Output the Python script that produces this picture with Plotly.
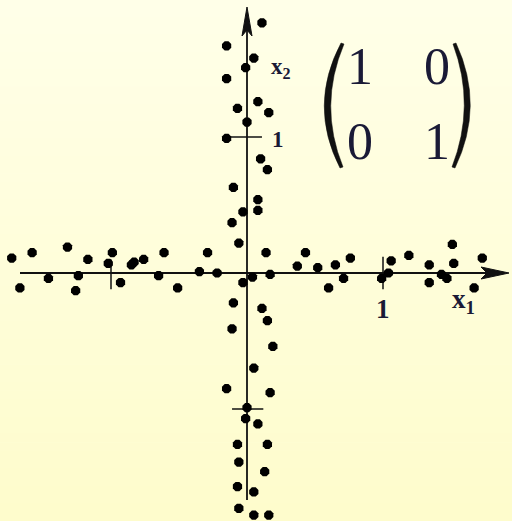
import plotly.graph_objects as go

# Sample points scattered along the two coordinate axes
x_vals = [
    -1.73, -1.58, -1.67, -1.46, -1.32, -1.17, -1.24, -1.26, -0.99, -1.02,
    -0.93, -0.85, -0.83, -0.76, -0.61, -0.65, -0.51, -0.35, -0.29, -0.22,
    -0.06, -0.03, 0.04, -0.10, 0.17, 0.14,
    0.37, 0.43, 0.52, 0.60, 0.65, 0.71, 0.76, 0.99, 1.04, 1.06,
    1.19, 1.34, 1.34, 1.43, 1.47, 1.51, 1.52, 1.67, 1.73,
    0.11, -0.15, 0.05, -0.01, -0.15, 0.08, -0.07, 0.16, 0.00, -0.15,
    0.10, 0.15, -0.10, 0.08, 0.08, -0.03, -0.11,
    0.11, 0.15, -0.11, 0.19, 0.05, -0.15, 0.17, 0.00, -0.01, 0.08,
    -0.07, 0.15, -0.06, 0.13, -0.07, 0.05, -0.06, 0.05, 0.16,
]
y_vals = [
    0.11, 0.15, -0.11, -0.04, 0.19, 0.10, -0.02, -0.13, 0.15, 0.07,
    -0.07, 0.06, 0.08, 0.10, 0.15, -0.02, -0.11, 0.01, 0.15, 0.00,
    0.22, -0.07, -0.03, -0.22, -0.01, 0.15,
    0.05, 0.15, 0.04, -0.11, 0.06, -0.04, 0.11, -0.04, 0.00, 0.09,
    0.13, 0.06, -0.07, -0.01, -0.04, 0.21, 0.07, -0.11, 0.11,
    1.84, 1.67, 1.58, 1.51, 1.43, 1.26, 1.21, 1.18, 1.11, 0.99,
    0.84, 0.76, 0.63, 0.54, 0.46, 0.45, 0.37,
    -0.26, -0.35, -0.41, -0.54, -0.70, -0.85, -0.88, -0.99, -1.07, -1.11,
    -1.26, -1.26, -1.39, -1.46, -1.57, -1.61, -1.73, -1.78, -1.78,
]

# Identity matrix shown next to the plot
matrix = [["1", "0"], ["0", "1"]]

W, H = 512, 521
X0, Y0, UNIT = 247, 273, 136  # origin pixel and pixels per unit


def dx(px):
    return (px - X0) / UNIT


def dy(py):
    return (Y0 - py) / UNIT


INK = "#111111"
LABEL = "#1a1a36"

shapes = []

# soft yellow vertical gradient background
n_bands = 60
top = (255, 255, 232)
bot = (254, 252, 204)
for i in range(n_bands):
    t = i / (n_bands - 1)
    c = tuple(round(top[k] + (bot[k] - top[k]) * t) for k in range(3))
    shapes.append(dict(
        type="rect", xref="paper", yref="paper",
        x0=0, x1=1, y0=1 - (i + 1) / n_bands, y1=1 - i / n_bands + 0.001,
        fillcolor="rgb(%d,%d,%d)" % c, line=dict(width=0), layer="below",
    ))

axis_line = dict(color=INK, width=1.8)

# x1 axis and arrowhead
shapes.append(dict(type="line", xref="x", yref="y", x0=dx(20), x1=dx(490),
                   y0=0, y1=0, line=axis_line, layer="below"))
shapes.append(dict(
    type="path", xref="x", yref="y",
    path="M %f %f L %f %f L %f %f L %f %f Z" % (
        dx(509), 0, dx(481), dy(267), dx(487), 0, dx(481), dy(279)),
    fillcolor=INK, line=dict(color=INK, width=1), layer="below"))

# x2 axis and arrowhead
shapes.append(dict(type="line", xref="x", yref="y", x0=0, x1=0,
                   y0=dy(500), y1=dy(30), line=axis_line, layer="below"))
shapes.append(dict(
    type="path", xref="x", yref="y",
    path="M %f %f L %f %f L %f %f L %f %f Z" % (
        0, dy(7), dx(242), dy(36), 0, dy(30), dx(252), dy(36)),
    fillcolor=INK, line=dict(color=INK, width=1), layer="below"))

# unit tick marks
tick_line = dict(color=INK, width=1.5)
shapes += [
    dict(type="line", xref="x", yref="y", x0=1, x1=1, y0=0.12, y1=-0.12,
         line=tick_line, layer="below"),
    dict(type="line", xref="x", yref="y", x0=-1, x1=-1, y0=0.10, y1=-0.12,
         line=tick_line, layer="below"),
    dict(type="line", xref="x", yref="y", x0=-0.18, x1=0.11, y0=1, y1=1,
         line=tick_line, layer="below"),
    dict(type="line", xref="x", yref="y", x0=-0.11, x1=0.12, y0=-1, y1=-1,
         line=tick_line, layer="below"),
]


def paren(x_end_out, x_ctrl_out, x_end_in, x_ctrl_in, ytop, ybot):
    ym = (ytop + ybot) / 2
    return ("M %f %f Q %f %f %f %f L %f %f Q %f %f %f %f Z" % (
        dx(x_end_out), dy(ytop), dx(x_ctrl_out), dy(ym), dx(x_end_out - 1), dy(ybot),
        dx(x_end_in - 1), dy(ybot - 1), dx(x_ctrl_in), dy(ym), dx(x_end_in), dy(ytop + 1)))


# matrix brackets
shapes.append(dict(type="path", xref="x", yref="y",
                   path=paren(341, 308, 344, 318, 43, 168),
                   fillcolor=INK, line=dict(color=INK, width=0.5)))
shapes.append(dict(type="path", xref="x", yref="y",
                   path=paren(456, 485, 453, 476, 43, 168),
                   fillcolor=INK, line=dict(color=INK, width=0.5)))

annotations = []
serif = "Liberation Serif"

# matrix entries
col_px = [360, 437]
row_px = [66, 141]
for r in range(2):
    for c in range(2):
        annotations.append(dict(
            x=dx(col_px[c]), y=dy(row_px[r]), xref="x", yref="y",
            text=matrix[r][c], showarrow=False,
            font=dict(family=serif, size=52, color=LABEL),
            xanchor="center", yanchor="middle"))

# axis and tick labels
annotations += [
    dict(x=1.0, y=dy(309), text="1", showarrow=False, xref="x", yref="y",
         font=dict(family=serif, size=27, color=LABEL, weight="bold"),
         xanchor="center", yanchor="middle"),
    dict(x=dx(278), y=dy(139), text="1", showarrow=False, xref="x", yref="y",
         font=dict(family=serif, size=23, color=LABEL, weight="bold"),
         xanchor="center", yanchor="middle"),
    dict(x=dx(463), y=dy(301), text="x<sub>1</sub>", showarrow=False, xref="x", yref="y",
         font=dict(family=serif, size=27, color=LABEL, weight="bold"),
         xanchor="center", yanchor="middle"),
    dict(x=dx(281), y=dy(68), text="x<sub>2</sub>", showarrow=False, xref="x", yref="y",
         font=dict(family=serif, size=23, color=LABEL, weight="bold"),
         xanchor="center", yanchor="middle"),
]

fig = go.Figure(go.Scatter(
    x=x_vals, y=y_vals, mode="markers",
    marker=dict(size=10, color="#000000", symbol="octagon", line=dict(width=0)),
    hoverinfo="skip",
))

fig.update_layout(
    width=W, height=H,
    margin=dict(l=0, r=0, t=0, b=0),
    paper_bgcolor="#FFFFE8",
    plot_bgcolor="rgba(0,0,0,0)",
    showlegend=False,
    shapes=shapes,
    annotations=annotations,
    xaxis=dict(range=[dx(0), dx(W)], visible=False, fixedrange=True),
    yaxis=dict(range=[dy(H), dy(0)], visible=False, fixedrange=True),
)

fig.write_html("out.html")
